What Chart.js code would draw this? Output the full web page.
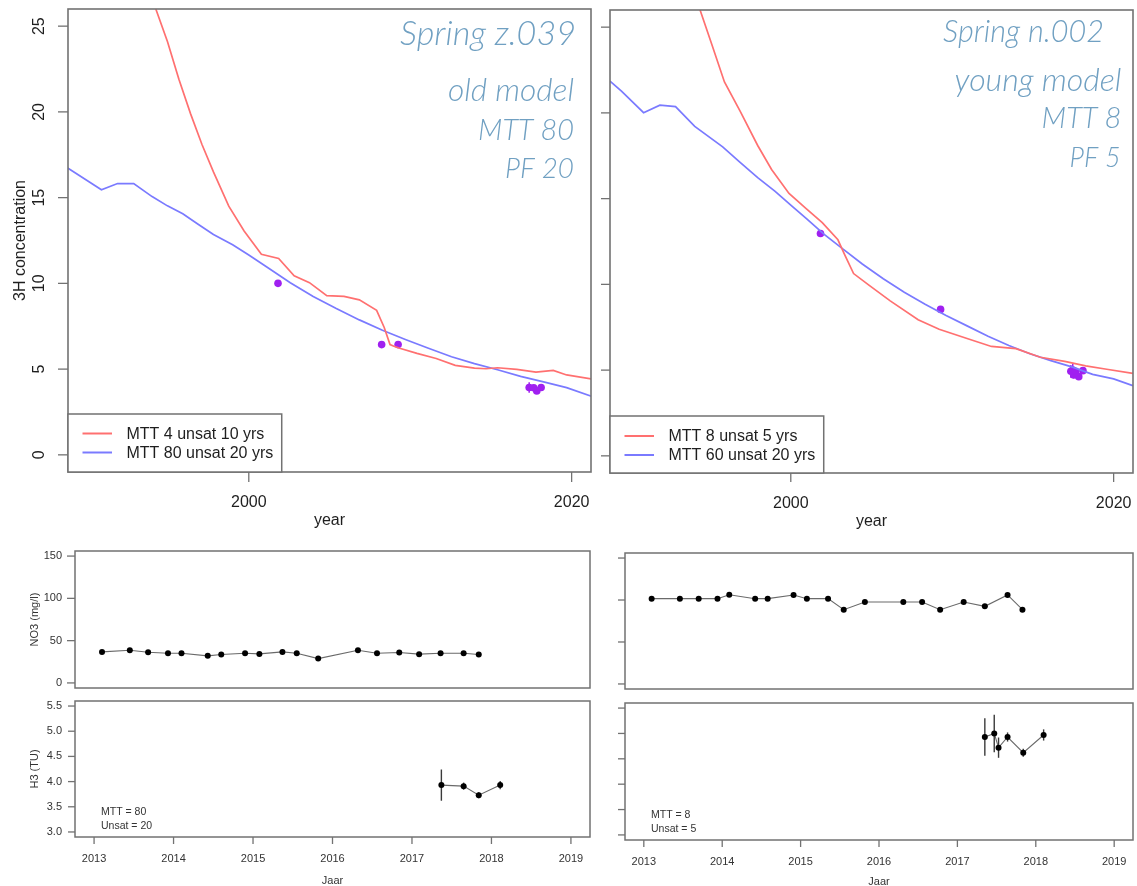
<!DOCTYPE html>
<html>
<head>
<meta charset="utf-8">
<script src="https://cdn.jsdelivr.net/npm/chart.js@4.4.1/dist/chart.umd.min.js"></script>
<style>
  html, body { margin: 0; padding: 0; background: #fff; }
  #fig { position: relative; width: 1137px; height: 886px; overflow: hidden; background: #fff; }
  #fig canvas { position: absolute; }
</style>
</head>
<body>
<div id="fig">
  <canvas id="z039Model" width="600" height="540" style="left:0;top:0"></canvas>
  <canvas id="n002Model" width="537" height="540" style="left:600px;top:0"></canvas>
  <canvas id="z039No3" width="600" height="160" style="left:0;top:540px"></canvas>
  <canvas id="z039H3" width="600" height="196" style="left:0;top:690px"></canvas>
  <canvas id="n002No3" width="537" height="160" style="left:600px;top:540px"></canvas>
  <canvas id="n002H3" width="537" height="196" style="left:600px;top:690px"></canvas>
</div>
<script>
// ---------- axes ----------
const modelYearRange = [1988.8, 2021.2];
const modelYearTicks = [2000, 2020];
const tritiumRange = [-1, 26];
const tritiumTicks = [0, 5, 10, 15, 20, 25];

const sampleYearRange = [2012.76, 2019.24];
const sampleYearTicks = [2013, 2014, 2015, 2016, 2017, 2018, 2019];
const no3Range = [-6, 156];
const no3Ticks = [0, 50, 100, 150];
const h3Range = [2.9, 5.6];
const h3Ticks = [3.0, 3.5, 4.0, 4.5, 5.0, 5.5];

// ---------- Spring z.039: model curves ----------
const z039FastYears = [1994.24, 1994.96, 1995.67, 1996.39, 1997.10, 1997.81, 1998.76, 1999.71, 2000.78, 2001.85,
  2002.81, 2003.76, 2004.83, 2005.90, 2006.85, 2007.92, 2008.39, 2008.75, 2008.99, 2009.35, 2010.42, 2011.61,
  2012.79, 2013.98, 2014.70, 2015.41, 2016.60, 2017.79, 2018.86, 2019.69, 2021.24];
const z039FastValues = [26.0, 24.1, 21.9, 19.9, 18.1, 16.5, 14.5, 13.05, 11.7, 11.45,
  10.44, 10.04, 9.28, 9.24, 9.04, 8.43, 7.43, 6.43, 6.33, 6.22, 5.92, 5.62,
  5.22, 5.06, 5.02, 5.08, 4.98, 4.82, 4.92, 4.66, 4.42];
const z039SlowYears = [1988.78, 1990.87, 1991.87, 1992.87, 1994.01, 1994.96, 1995.91, 1996.86, 1997.81, 1999.0,
  2000.0, 2001.14, 2002.57, 2003.99, 2005.42, 2006.85, 2008.28, 2009.70, 2011.13, 2012.56, 2013.98, 2015.41,
  2016.84, 2018.26, 2019.69, 2021.24];
const z039SlowValues = [16.73, 15.46, 15.82, 15.82, 15.06, 14.52, 14.06, 13.45, 12.85, 12.25,
  11.65, 10.94, 10.04, 9.24, 8.53, 7.87, 7.27, 6.73, 6.22, 5.72, 5.32, 4.96,
  4.58, 4.26, 3.92, 3.41];
const z039OldSampleYears = [2001.81, 2008.23, 2009.25];
const z039OldSampleValues = [10.0, 6.43, 6.43];

// ---------- Spring z.039: monitoring ----------
const z039No3Years = [2013.10, 2013.45, 2013.68, 2013.93, 2014.10, 2014.43, 2014.60, 2014.90, 2015.08, 2015.37,
  2015.55, 2015.82, 2016.32, 2016.56, 2016.84, 2017.09, 2017.36, 2017.65, 2017.84];
const z039No3Values = [36.7, 38.7, 36.3, 35.1, 35.1, 32.0, 33.6, 35.1, 34.3, 36.7,
  35.1, 28.8, 38.7, 35.1, 35.9, 34.0, 35.1, 35.1, 33.6];
const z039H3Years = [2017.37, 2017.65, 2017.84, 2018.11];
const z039H3Values = [3.93, 3.91, 3.73, 3.93];
const z039H3Errors = [0.31, 0.07, 0.06, 0.08];

// ---------- Spring n.002: model curves ----------
const n002FastYears = [1994.38, 1995.14, 1995.89, 1996.86, 1997.95, 1998.81, 1999.89, 2000.97, 2001.95, 2002.92,
  2003.35, 2003.89, 2004.86, 2006.16, 2007.89, 2009.19, 2010.92, 2012.43, 2013.95, 2015.46, 2016.97, 2018.27,
  2019.57, 2021.19];
const n002FastValues = [26.0, 23.9, 21.8, 20.1, 18.1, 16.7, 15.3, 14.4, 13.6, 12.6,
  11.7, 10.63, 9.94, 9.04, 7.94, 7.38, 6.84, 6.38, 6.25, 5.75, 5.51, 5.25,
  5.05, 4.81];
const n002SlowYears = [1988.80, 1989.51, 1990.88, 1991.89, 1992.86, 1994.05, 1995.78, 1996.86, 1997.95, 1999.03,
  2000.0, 2000.97, 2002.05, 2003.14, 2004.43, 2005.73, 2007.03, 2008.32, 2009.62, 2010.92, 2012.22, 2013.51,
  2014.81, 2016.11, 2017.41, 2018.70, 2020.0, 2021.19];
const n002SlowValues = [21.85, 21.27, 20.01, 20.45, 20.37, 19.21, 18.02, 17.12, 16.22, 15.42,
  14.62, 13.83, 12.93, 12.13, 11.19, 10.33, 9.54, 8.84, 8.18, 7.58, 6.98, 6.44,
  5.95, 5.55, 5.19, 4.75, 4.49, 4.09];
const n002OldSampleYears = [2001.84, 2009.28];
const n002OldSampleValues = [12.97, 8.54];

// ---------- Spring n.002: monitoring ----------
const n002No3Years = [2013.10, 2013.46, 2013.70, 2013.94, 2014.09, 2014.42, 2014.58, 2014.91, 2015.08, 2015.35,
  2015.55, 2015.82, 2016.31, 2016.55, 2016.78, 2017.08, 2017.35, 2017.64, 2017.83];
const n002No3Values = [101.6, 101.6, 101.6, 101.6, 106.3, 101.6, 101.6, 106.0, 101.6, 101.6,
  88.5, 97.6, 97.6, 97.6, 88.5, 97.6, 92.5, 106.0, 88.5];
const n002H3Years = [2017.35, 2017.47, 2017.525, 2017.64, 2017.84, 2018.10];
const n002H3Values = [4.93, 5.00, 4.72, 4.93, 4.62, 4.97];
const n002H3Errors = [0.37, 0.37, 0.20, 0.09, 0.08, 0.11];

// ---------- styling ----------
const SANS = '"Liberation Sans", Arial, sans-serif';
const NOTE_FONT = 'Lato, "Open Sans", sans-serif';
const RED = '#ff7070';
const BLUE = '#7a7aff';
const PURPLE = '#a020f0';
const NOTE_BLUE = '#70a0c2';

const pts = (xs, ys) => xs.map((v, i) => ({ x: v, y: ys[i] }));

function curve(xs, ys, color, label) {
  return { label, data: pts(xs, ys), showLine: true, borderColor: color, borderWidth: 1.7,
           pointRadius: 0, tension: 0, clip: 0 };
}
function dots(xs, ys, color, r) {
  return { data: pts(xs, ys), showLine: false, pointRadius: r, pointBackgroundColor: color,
           pointBorderWidth: 0, clip: 5 };
}
function series(xs, ys) {
  return { data: pts(xs, ys), showLine: true, borderColor: '#6a6a6a', borderWidth: 1.1, tension: 0,
           pointRadius: 3, pointBackgroundColor: '#000', pointBorderWidth: 0, clip: 4 };
}

// R-style frame: box, outward ticks, labels, titles, legend, notes and error bars
function rPanel(cfg) {
  return {
    id: 'rPanel',
    beforeDatasetsDraw(chart) {
      if (!cfg.errorBars) return;
      const { ctx, scales: { x, y } } = chart;
      ctx.save();
      cfg.errorBars.forEach(eb => {
        ctx.strokeStyle = eb.color;
        ctx.lineWidth = eb.width;
        eb.years.forEach((yr, i) => {
          const px = x.getPixelForValue(yr);
          ctx.beginPath();
          ctx.moveTo(px, y.getPixelForValue(eb.values[i] - eb.errors[i]));
          ctx.lineTo(px, y.getPixelForValue(eb.values[i] + eb.errors[i]));
          ctx.stroke();
        });
      });
      ctx.restore();
    },
    afterDraw(chart) {
      const { ctx, chartArea: a, scales: { x, y } } = chart;
      ctx.save();
      ctx.strokeStyle = cfg.frameColor || '#727272';
      ctx.lineWidth = cfg.frameWidth || 1.6;
      ctx.strokeRect(a.left, a.top, a.right - a.left, a.bottom - a.top);

      ctx.lineWidth = 1.3;
      ctx.fillStyle = cfg.textColor;
      ctx.font = cfg.font;

      if (cfg.xTicks) {
        cfg.xTicks.forEach(v => {
          const px = x.getPixelForValue(v);
          ctx.beginPath(); ctx.moveTo(px, a.bottom); ctx.lineTo(px, a.bottom + cfg.tickLen); ctx.stroke();
          if (cfg.xLabelDy) {
            ctx.textAlign = 'center'; ctx.textBaseline = 'middle';
            ctx.fillText(String(v), px, a.bottom + cfg.xLabelDy);
          }
        });
      }
      if (cfg.yTicks) {
        cfg.yTicks.forEach(v => {
          const py = y.getPixelForValue(v);
          ctx.beginPath(); ctx.moveTo(a.left, py); ctx.lineTo(a.left - cfg.tickLen, py); ctx.stroke();
          if (cfg.yLabelMode === 'rot') {
            ctx.save();
            ctx.translate(a.left - cfg.yLabelDx, py);
            ctx.rotate(-Math.PI / 2);
            ctx.textAlign = 'center'; ctx.textBaseline = 'middle';
            ctx.fillText(String(v), 0, 0);
            ctx.restore();
          } else if (cfg.yLabelMode === 'flat') {
            ctx.textAlign = 'right'; ctx.textBaseline = 'middle';
            ctx.fillText(v.toFixed(cfg.yDecimals), a.left - cfg.yLabelDx, py);
          }
        });
      }
      if (cfg.xTitle) {
        ctx.textAlign = 'center'; ctx.textBaseline = 'middle';
        ctx.fillText(cfg.xTitle, (a.left + a.right) / 2, a.bottom + cfg.xTitleDy);
      }
      if (cfg.yTitle) {
        ctx.save();
        ctx.translate(a.left - cfg.yTitleDx, (a.top + a.bottom) / 2);
        ctx.rotate(-Math.PI / 2);
        ctx.textAlign = 'center'; ctx.textBaseline = 'middle';
        ctx.fillText(cfg.yTitle, 0, 0);
        ctx.restore();
      }
      if (cfg.legend) {
        const lg = cfg.legend;
        const items = chart.data.datasets.filter(d => d.label);
        const w = Math.max(...items.map(d => ctx.measureText(d.label).width)) + 58 + 9;
        const top = a.bottom - lg.height;
        ctx.fillStyle = '#fff';
        ctx.fillRect(a.left, top, w, lg.height);
        ctx.strokeStyle = cfg.frameColor || '#727272';
        ctx.lineWidth = 1.5;
        ctx.strokeRect(a.left, top, w, lg.height);
        items.forEach((d, i) => {
          const ly = a.bottom - lg.rows[i];
          ctx.strokeStyle = d.borderColor; ctx.lineWidth = 2;
          ctx.beginPath(); ctx.moveTo(a.left + 14.5, ly); ctx.lineTo(a.left + 44, ly); ctx.stroke();
          ctx.fillStyle = cfg.textColor;
          ctx.textAlign = 'left'; ctx.textBaseline = 'middle';
          ctx.fillText(d.label, a.left + 58.5, ly + 1);
        });
      }
      if (cfg.notes) {
        ctx.fillStyle = cfg.noteColor;
        ctx.textAlign = 'right'; ctx.textBaseline = 'alphabetic';
        cfg.notes.forEach(n => {
          ctx.font = 'italic 300 40px ' + NOTE_FONT;
          const size = 40 * n.width / ctx.measureText(n.text).width;
          ctx.font = 'italic 300 ' + size.toFixed(2) + 'px ' + NOTE_FONT;
          ctx.fillText(n.text, n.right, n.baseline);
        });
      }
      if (cfg.corner) {
        ctx.fillStyle = cfg.textColor;
        ctx.font = cfg.cornerFont;
        ctx.textAlign = 'left'; ctx.textBaseline = 'middle';
        cfg.corner.forEach((t, i) => ctx.fillText(t, a.left + 26, a.bottom - 24.5 + i * 14));
      }
      ctx.restore();
    }
  };
}

function panel(id, datasets, xr, yr, padding, deco) {
  return new Chart(document.getElementById(id), {
    type: 'scatter',
    data: { datasets },
    options: {
      responsive: false, animation: false, devicePixelRatio: 1, events: [],
      layout: { padding },
      plugins: { legend: { display: false }, tooltip: { enabled: false } },
      scales: {
        x: { type: 'linear', min: xr[0], max: xr[1], display: false },
        y: { type: 'linear', min: yr[0], max: yr[1], display: false }
      }
    },
    plugins: [rPanel(deco)]
  });
}

const topFont = '16px ' + SANS;
const smallFont = '11px ' + SANS;

// ---- Spring z.039, tritium model ----
panel('z039Model', [
  curve(z039FastYears, z039FastValues, RED, 'MTT 4 unsat 10 yrs'),
  curve(z039SlowYears, z039SlowValues, BLUE, 'MTT 80 unsat 20 yrs'),
  dots(z039OldSampleYears.concat(z039H3Years), z039OldSampleValues.concat(z039H3Values), PURPLE, 3.8)
], modelYearRange, tritiumRange, { left: 68, top: 9, right: 9, bottom: 68 }, {
  font: topFont, textColor: '#1e1e1e', tickLen: 10,
  xTicks: modelYearTicks, xLabelDy: 30.5, xTitle: 'year', xTitleDy: 48.5,
  yTicks: tritiumTicks, yLabelMode: 'rot', yLabelDx: 28, yTitle: '3H concentration', yTitleDx: 47,
  legend: { height: 58, rows: [38.5, 19.5] },
  errorBars: [{ years: z039H3Years, values: z039H3Values, errors: z039H3Errors, color: PURPLE, width: 1.5 }],
  noteColor: NOTE_BLUE,
  notes: [
    { text: 'Spring z.039', right: 576, baseline: 45, width: 176 },
    { text: 'old model', right: 574, baseline: 100.5, width: 126 },
    { text: 'MTT 80', right: 574, baseline: 139.5, width: 96 },
    { text: 'PF 20', right: 574, baseline: 178, width: 69 }
  ]
});

// ---- Spring n.002, tritium model ----
panel('n002Model', [
  curve(n002FastYears, n002FastValues, RED, 'MTT 8 unsat 5 yrs'),
  curve(n002SlowYears, n002SlowValues, BLUE, 'MTT 60 unsat 20 yrs'),
  dots(n002OldSampleYears.concat(n002H3Years), n002OldSampleValues.concat(n002H3Values), PURPLE, 3.8)
], modelYearRange, tritiumRange, { left: 10, top: 10, right: 0, bottom: 67 }, {
  font: topFont, textColor: '#1e1e1e', tickLen: 9,
  xTicks: modelYearTicks, xLabelDy: 30.5, xTitle: 'year', xTitleDy: 48.5,
  yTicks: tritiumTicks,
  legend: { height: 57, rows: [37, 18] },
  errorBars: [{ years: n002H3Years, values: n002H3Values, errors: n002H3Errors, color: PURPLE, width: 1.5 }],
  noteColor: NOTE_BLUE,
  notes: [
    { text: 'Spring n.002', right: 504, baseline: 42, width: 161 },
    { text: 'young model', right: 521.5, baseline: 90.5, width: 167 },
    { text: 'MTT 8', right: 521.5, baseline: 127.5, width: 80 },
    { text: 'PF 5', right: 520.5, baseline: 166.5, width: 51 }
  ]
});

// ---- Spring z.039, nitrate ----
panel('z039No3', [series(z039No3Years, z039No3Values)], sampleYearRange, no3Range,
  { left: 75, top: 11, right: 10, bottom: 12 }, {
  font: smallFont, textColor: '#333', tickLen: 8, frameWidth: 1.5,
  yTicks: no3Ticks, yLabelMode: 'flat', yDecimals: 0, yLabelDx: 13, yTitle: 'NO3 (mg/l)', yTitleDx: 40
});

// ---- Spring z.039, tritium samples ----
panel('z039H3', [series(z039H3Years, z039H3Values)], sampleYearRange, h3Range,
  { left: 75, top: 11, right: 10, bottom: 49 }, {
  font: smallFont, textColor: '#333', tickLen: 7, frameWidth: 1.5,
  xTicks: sampleYearTicks, xLabelDy: 21.5, xTitle: 'Jaar', xTitleDy: 43.5,
  yTicks: h3Ticks, yLabelMode: 'flat', yDecimals: 1, yLabelDx: 13, yTitle: 'H3 (TU)', yTitleDx: 40,
  errorBars: [{ years: z039H3Years, values: z039H3Values, errors: z039H3Errors, color: '#3a3a3a', width: 1.4 }],
  corner: ['MTT = 80', 'Unsat = 20'], cornerFont: '10.5px ' + SANS
});

// ---- Spring n.002, nitrate ----
panel('n002No3', [series(n002No3Years, n002No3Values)], sampleYearRange, no3Range,
  { left: 25, top: 13, right: 0, bottom: 11 }, {
  font: smallFont, textColor: '#333', tickLen: 7, frameWidth: 1.5,
  yTicks: no3Ticks
});

// ---- Spring n.002, tritium samples ----
panel('n002H3', [series(n002H3Years, n002H3Values)], sampleYearRange, h3Range,
  { left: 25, top: 13, right: 0, bottom: 46 }, {
  font: smallFont, textColor: '#333', tickLen: 7, frameWidth: 1.5,
  xTicks: sampleYearTicks, xLabelDy: 22, xTitle: 'Jaar', xTitleDy: 41.5,
  yTicks: h3Ticks,
  errorBars: [{ years: n002H3Years, values: n002H3Values, errors: n002H3Errors, color: '#3a3a3a', width: 1.4 }],
  corner: ['MTT = 8', 'Unsat = 5'], cornerFont: '10.5px ' + SANS
});
</script>
</body>
</html>
